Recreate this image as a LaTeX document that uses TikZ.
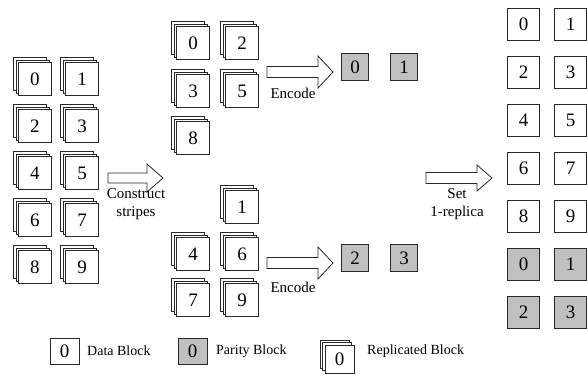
\documentclass[tikz,border=0pt]{standalone}
\usepackage{fontspec}
\setmainfont{Liberation Serif}
\usetikzlibrary{shadows}

\definecolor{paritygray}{RGB}{192,192,192}
\definecolor{edge}{RGB}{40,40,40}

\tikzset{
  blk/.style={draw=edge, line width=0.8pt, fill=white, inner sep=0pt,
    minimum width=32pt, minimum height=32pt, font=\fontsize{19}{19}\selectfont},
  parblk/.style={blk, fill=paritygray, minimum width=27pt, minimum height=27pt},
  keyblk/.style={blk, minimum width=29pt, minimum height=26pt},
  replblk/.style={blk, minimum width=33pt, minimum height=33pt,
    copy shadow={shadow xshift=-5pt, shadow yshift=5pt, fill=white, draw=edge, line width=0.8pt},
    copy shadow={shadow xshift=-2.5pt, shadow yshift=2.5pt, fill=white, draw=edge, line width=0.8pt}},
  blockarrow/.style={draw=edge, line width=0.8pt, fill=white, line join=miter},
  lbl/.style={font=\fontsize{15}{18}\selectfont, align=center, inner sep=0pt},
  keytext/.style={font=\fontsize{14}{16}\selectfont, anchor=west, inner sep=0pt},
}

\begin{document}
\begin{tikzpicture}[x=1pt,y=-1pt]
\useasboundingbox (0,0) rectangle (587,375);

% replicated data blocks
\node[replblk] (l0) at (35,79) {0};
\node[replblk] (l1) at (82,79) {1};
\node[replblk] (l2) at (35,126) {2};
\node[replblk] (l3) at (82,126) {3};
\node[replblk] (l4) at (35,173) {4};
\node[replblk] (l5) at (82,173) {5};
\node[replblk] (l6) at (35,220) {6};
\node[replblk] (l7) at (82,220) {7};
\node[replblk] (l8) at (35,267) {8};
\node[replblk] (l9) at (82,267) {9};

\draw[blockarrow] (108,173) -- (147,173) -- (147,164) -- (163,178)
  -- (147,192) -- (147,183) -- (108,183) -- cycle;
\node[lbl] (construct) at (136,204) {Construct\\stripes};

% first stripe
\node[replblk] (s0) at (193,43) {0};
\node[replblk] (s2) at (242,43) {2};
\node[replblk] (s3) at (193,91) {3};
\node[replblk] (s5) at (242,91) {5};
\node[replblk] (s8) at (193,138) {8};

\draw[blockarrow] (267,66.5) -- (318,66.5) -- (318,56) -- (333,72)
  -- (318,88) -- (318,77.5) -- (267,77.5) -- cycle;
\node[lbl] (enc1) at (293,93) {Encode};

\node[parblk] (p0) at (355,67) {0};
\node[parblk] (p1) at (404,67) {1};

% second stripe
\node[replblk] (t1) at (242,207) {1};
\node[replblk] (t4) at (193,254) {4};
\node[replblk] (t6) at (242,254) {6};
\node[replblk] (t7) at (193,300) {7};
\node[replblk] (t9) at (242,300) {9};

\draw[blockarrow] (267,257.5) -- (318,257.5) -- (318,247) -- (333,263)
  -- (318,279) -- (318,268.5) -- (267,268.5) -- cycle;
\node[lbl] (enc2) at (293,287) {Encode};

\node[parblk] (p2) at (355,258) {2};
\node[parblk] (p3) at (404,258) {3};

% single copy of every block
\draw[blockarrow] (426,172.5) -- (477,172.5) -- (477,165) -- (492,178)
  -- (477,191) -- (477,183.5) -- (426,183.5) -- cycle;
\node[lbl] (setrep) at (457,204) {Set\\1-replica};

\node[blk] (r0) at (523.5,24) {0};
\node[blk] (r1) at (570.5,24) {1};
\node[blk] (r2) at (523.5,72) {2};
\node[blk] (r3) at (570.5,72) {3};
\node[blk] (r4) at (523.5,120) {4};
\node[blk] (r5) at (570.5,120) {5};
\node[blk] (r6) at (523.5,168) {6};
\node[blk] (r7) at (570.5,168) {7};
\node[blk] (r8) at (523.5,216) {8};
\node[blk] (r9) at (570.5,216) {9};
\node[blk, fill=paritygray] (rp0) at (523.5,264) {0};
\node[blk, fill=paritygray] (rp1) at (570.5,264) {1};
\node[blk, fill=paritygray] (rp2) at (523.5,312) {2};
\node[blk, fill=paritygray] (rp3) at (570.5,312) {3};

% legend
\node[keyblk] (kd) at (64.5,351) {0};
\node[keytext] (kdt) at (87,351) {Data Block};
\node[keyblk, fill=paritygray] (kp) at (192.5,351) {0};
\node[keytext] (kpt) at (216,351) {Parity Block};
\node[replblk, minimum width=29pt, minimum height=28pt] (kr) at (339.5,359) {0};
\node[keytext] (krt) at (367,351) {Replicated Block};
\end{tikzpicture}
\end{document}
